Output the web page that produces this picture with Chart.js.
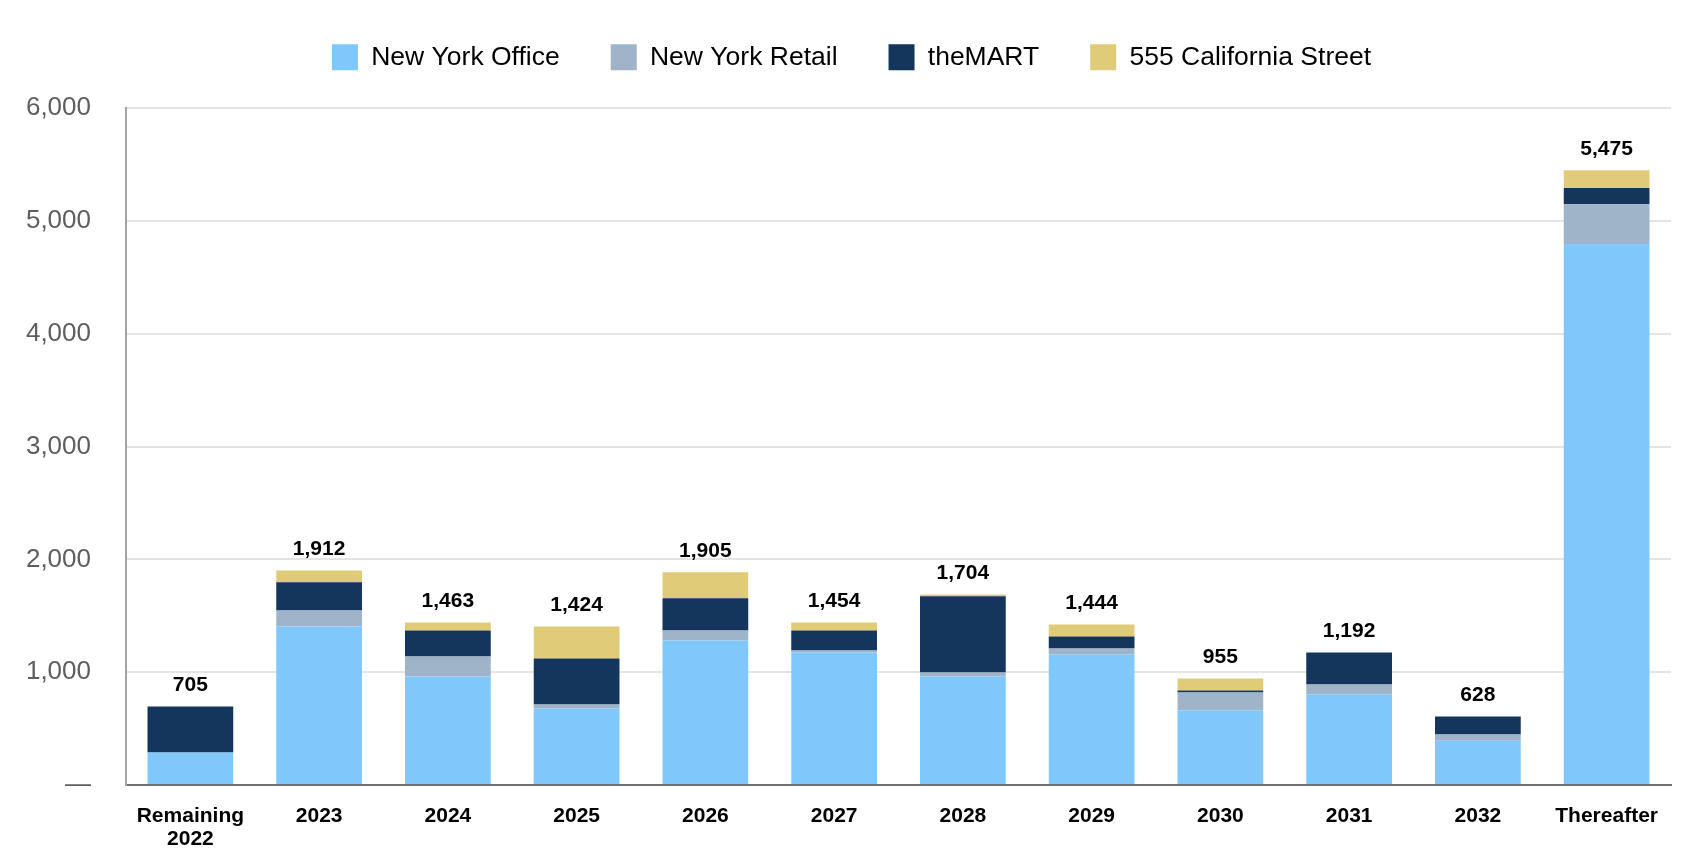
<!DOCTYPE html>
<html>
<head>
<meta charset="utf-8">
<script src="https://cdn.jsdelivr.net/npm/chart.js@4.4.1/dist/chart.umd.min.js"></script>
<style>
  html, body { margin: 0; padding: 0; background: #ffffff; }
  #wrap { width: 1700px; height: 850px; }
</style>
</head>
<body>
<div id="wrap"><canvas id="c" width="1700" height="850"></canvas></div>
<script>
// ---- Data (square feet, thousands) ----
const categories = [['Remaining', '2022'], '2023', '2024', '2025', '2026', '2027', '2028', '2029', '2030', '2031', '2032', 'Thereafter'];
const newYorkOffice = [287, 1405, 962, 678, 1281, 1175, 962, 1157, 660, 802, 393, 4794];
const newYorkRetail = [0, 142, 177, 35, 89, 17, 35, 53, 160, 89, 54, 354];
const theMART = [408, 249, 231, 408, 284, 178, 675, 107, 17, 284, 160, 142];
const california555 = [0, 106, 71, 284, 231, 71, 17, 106, 107, 0, 0, 159];
// printed totals above each bar
const totals = [705, 1912, 1463, 1424, 1905, 1454, 1704, 1444, 955, 1192, 628, 5475];
const yTicks = [0, 1000, 2000, 3000, 4000, 5000, 6000];

const FONT = "'Liberation Sans', Arial, sans-serif";

const legendFit = {
  id: 'legendFit',
  beforeInit(chart) {
    const fit = chart.legend.fit;
    chart.legend.fit = function () {
      fit.bind(chart.legend)();
      this.height = 108;
    };
  },
  afterLayout(chart) {
    const l = chart.legend;
    l.top -= 7; l.bottom -= 7;
    l.left += 16; l.right += 16;
  }
};

const totalLabels = {
  id: 'totalLabels',
  afterDatasetsDraw(chart) {
    const { ctx, scales: { x, y } } = chart;
    ctx.save();
    ctx.font = "bold 21px " + FONT;
    ctx.fillStyle = '#000000';
    ctx.textAlign = 'center';
    ctx.textBaseline = 'middle';
    totals.forEach((t, i) => {
      let top = 0;
      chart.data.datasets.forEach(ds => { top += ds.data[i] || 0; });
      const px = x.getPixelForValue(i);
      const py = y.getPixelForValue(top);
      ctx.fillText(t.toLocaleString('en-US'), px, py - 21);
    });
    ctx.restore();
  }
};

new Chart(document.getElementById('c'), {
  type: 'bar',
  data: {
    labels: categories,
    datasets: [
      { label: 'New York Office', data: newYorkOffice, backgroundColor: '#80C8FC' },
      { label: 'New York Retail', data: newYorkRetail, backgroundColor: '#9FB4C8' },
      { label: 'theMART', data: theMART, backgroundColor: '#14365C' },
      { label: '555 California Street', data: california555, backgroundColor: '#E0CB78' }
    ]
  },
  options: {
    responsive: false,
    devicePixelRatio: 1,
    animation: false,
    layout: { padding: { left: 0, right: 29, top: 0, bottom: 0 } },
    datasets: { bar: { categoryPercentage: 0.666, barPercentage: 1.0, borderWidth: 0 } },
    plugins: {
      legend: {
        position: 'top',
        align: 'center',
        labels: {
          boxWidth: 26,
          boxHeight: 26,
          padding: 51,
          color: '#000000',
          font: { family: FONT, size: 26.5 }
        }
      },
      tooltip: { enabled: false }
    },
    scales: {
      x: {
        stacked: true,
        grid: { display: false, drawTicks: false },
        border: { display: true, color: '#707070', width: 2 },
        ticks: {
          color: '#000000',
          font: { family: FONT, size: 21, weight: 'bold', lineHeight: 1.1 },
          padding: 20,
          maxRotation: 0,
          autoSkip: false
        },
        afterFit(s) { s.height = 65; }
      },
      y: {
        stacked: true,
        min: 0,
        max: 6000,
        grid: { color: '#e4e4e4', lineWidth: 2, drawTicks: false },
        border: { display: true, color: '#a3a3a3', width: 2 },
        afterBuildTicks(s) { s.ticks = yTicks.map(v => ({ value: v })); },
        ticks: {
          color: '#5e5e5e',
          font: { family: FONT, size: 26 },
          padding: 35,
          callback: (v) => v === 0 ? '\u2014' : Number(v).toLocaleString('en-US')
        },
        afterFit(s) { s.width = 126; }
      }
    }
  },
  plugins: [legendFit, totalLabels]
});
</script>
</body>
</html>
